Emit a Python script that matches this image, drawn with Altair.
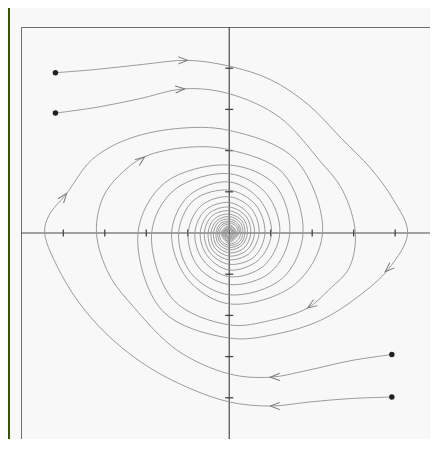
import altair as alt
import pandas as pd

# ---- trajectories (in plot units) ----
A_x = [-4.19, -3.20, -2.10, -1.00, 0.00, 1.00, 1.90, 2.70, 3.40, 3.95, 4.30, 3.85, 3.10, 2.20, 1.15, 0.00,
       -1.62, -2.20, -1.55, 0.00, 1.10, 1.46, 1.00, 0.00, -0.75, -0.99, -0.68, 0.00, 0.54, 0.72, 0.49, 0.00,
       -0.40, -0.51, -0.35, 0.00, 0.30, 0.38, 0.27, 0.00, -0.22, -0.28, -0.19, 0.00, 0.16, 0.21, 0.00, -0.15,
       0.00, 0.11, 0.00, -0.08, 0.00]
A_y = [3.89, 3.97, 4.09, 4.19, 4.05, 3.72, 3.12, 2.30, 1.58, 0.82, 0.00, -0.86, -1.55, -2.12, -2.45, -2.55,
       -1.88, 0.00, 1.22, 1.65, 1.17, 0.00, -0.95, -1.25, -0.82, 0.00, 0.66, 0.88, 0.58, 0.00, -0.49, -0.65,
       -0.42, 0.00, 0.35, 0.46, 0.30, 0.00, -0.26, -0.35, -0.22, 0.00, 0.19, 0.25, 0.16, 0.00, -0.19, 0.00,
       0.13, 0.00, -0.10, 0.00, 0.06]

B_x = [-4.19, -3.20, -2.20, -1.07, 0.00, 1.20, 2.17, 2.73, 3.04, 2.89, 2.40, 1.89, 1.00, 0.00,
       -1.35, -1.87, -1.32, 0.00, 0.90, 1.22, 0.83, 0.00, -0.63, -0.83, -0.57, 0.00, 0.45, 0.61, 0.42, 0.00,
       -0.35, -0.44, -0.30, 0.00, 0.26, 0.33, 0.23, 0.00, -0.19, -0.24, -0.16, 0.00, 0.18, 0.00, -0.13, 0.00,
       0.095, 0.00, -0.07, 0.00]
B_y = [2.91, 3.05, 3.25, 3.50, 3.38, 2.82, 1.77, 1.04, 0.00, -0.85, -1.38, -1.82, -2.12, -2.23,
       -1.62, 0.00, 1.05, 1.44, 0.95, 0.00, -0.80, -1.06, -0.66, 0.00, 0.56, 0.74, 0.48, 0.00, -0.42, -0.56,
       -0.36, 0.00, 0.30, 0.40, 0.26, 0.00, -0.23, -0.30, -0.19, 0.00, 0.16, 0.21, 0.00, -0.16, 0.00, 0.11,
       0.00, -0.09, 0.00, 0.05]

C_x = [3.92, 2.92, 1.90, 0.99, 0.00, -1.25, -2.30, -2.90, -3.20, -3.05, -2.65, -2.04, -1.00, 0.00,
       1.30, 1.78, 1.28, 0.00, -0.92, -1.22, -0.85, 0.00, 0.64, 0.86, 0.60, 0.00, -0.46, -0.60, -0.42, 0.00,
       0.34, 0.44, 0.30, 0.00, -0.26, -0.32, -0.22, 0.00, 0.19, 0.24, 0.00, -0.17, 0.00, 0.13, 0.00, -0.095,
       0.00, 0.07, 0.00]
C_y = [-2.95, -3.10, -3.33, -3.50, -3.42, -2.85, -1.80, -1.00, 0.00, 0.85, 1.40, 1.85, 2.08, 2.02,
       1.45, 0.00, -1.10, -1.50, -0.98, 0.00, 0.80, 1.04, 0.68, 0.00, -0.58, -0.76, -0.48, 0.00, 0.41, 0.54,
       0.35, 0.00, -0.30, -0.41, -0.26, 0.00, 0.22, 0.29, 0.19, 0.00, -0.22, 0.00, 0.15, 0.00, -0.12, 0.00,
       0.08, 0.00, -0.05]

D_x = [3.92, 2.90, 1.95, 0.99, 0.00, -1.00, -1.95, -2.80, -3.50, -4.05, -4.45, -4.35, -3.92, -3.32, -2.52,
       -1.31, 0.00, 1.60, 2.25, 1.58, 0.00, -1.02, -1.39, -0.98, 0.00, 0.74, 1.02, 0.70, 0.00, -0.53, -0.70,
       -0.48, 0.00, 0.40, 0.52, 0.36, 0.00, -0.30, -0.38, -0.26, 0.00, 0.22, 0.28, 0.19, 0.00, -0.20, 0.00,
       0.15, 0.00, -0.11, 0.00, 0.08, 0.00]
D_y = [-3.98, -4.02, -4.10, -4.20, -4.10, -3.75, -3.25, -2.60, -1.85, -1.00, 0.00, 0.42, 0.96, 1.77, 2.25,
       2.53, 2.49, 1.78, 0.00, -1.25, -1.72, -1.10, 0.00, 0.90, 1.24, 0.80, 0.00, -0.66, -0.90, -0.55, 0.00,
       0.48, 0.63, 0.41, 0.00, -0.36, -0.48, -0.31, 0.00, 0.26, 0.34, 0.22, 0.00, -0.19, -0.26, 0.00, 0.18,
       0.00, -0.14, 0.00, 0.09, 0.00, -0.06]

# starting points (dots)
dot_x = [-4.19, -4.19, 3.92, 3.92]
dot_y = [3.89, 2.91, -2.95, -3.98]

# arrowheads: position and heading (degrees, clockwise on screen)
arrow_x = [-1.00, -1.07, -3.92, -2.04, 3.76, 1.89, 0.99, 0.99]
arrow_y = [4.19, 3.50, 0.96, 1.85, -0.94, -1.82, -3.50, -4.20]
arrow_angle = [0, 356, 308, 322, 137, 146, 178, 180]

# axis tick positions and visible frame extent
tick_vals = [-4, -3, -2, -1, 1, 2, 3, 4]
x_lo, x_hi = -5.02, 4.84
y_lo, y_hi = -5.0, 5.0

# ---- tables ----
rows = []
for name, xs, ys in [("A", A_x, A_y), ("B", B_x, B_y), ("C", C_x, C_y), ("D", D_x, D_y)]:
    for i, (x, y) in enumerate(zip(xs, ys)):
        rows.append({"traj": name, "i": i, "x": x, "y": y})
df_lines = pd.DataFrame(rows)
df_dots = pd.DataFrame({"x": dot_x, "y": dot_y})
df_arrows = pd.DataFrame({"x": arrow_x, "y": arrow_y, "a": arrow_angle})
df_xt = pd.DataFrame({"x": tick_vals, "y": [0] * len(tick_vals)})
df_yt = pd.DataFrame({"x": [0] * len(tick_vals), "y": tick_vals})
df_axes = pd.DataFrame({"x": [x_lo, 0], "x2": [x_hi, 0], "y": [0, y_lo], "y2": [0, y_hi]})

xs = alt.Scale(domain=[x_lo, x_hi], nice=False, zero=False)
ys = alt.Scale(domain=[y_lo, y_hi], nice=False, zero=False)
X = alt.X("x:Q", scale=xs, axis=None)
Y = alt.Y("y:Q", scale=ys, axis=None)

green = alt.Chart(df_dots).mark_rect(color="#2d5a00").encode(
    x=alt.value(-13), x2=alt.value(-11), y=alt.value(-19), y2=alt.value(413)
)

axes = alt.Chart(df_axes).mark_rule(color="#4a4a4a", strokeWidth=1.2).encode(
    x=X, x2="x2:Q", y=Y, y2="y2:Q"
)

xticks = alt.Chart(df_xt).mark_point(
    shape="M0,-1L0,1", size=49, filled=False, stroke="#444", strokeWidth=1.3, opacity=1
).encode(x=X, y=Y)
yticks = alt.Chart(df_yt).mark_point(
    shape="M-1,0L1,0", size=64, filled=False, stroke="#444", strokeWidth=1.3, opacity=1
).encode(x=X, y=Y)

lines = alt.Chart(df_lines).mark_line(
    interpolate="catmull-rom", color="#969696", strokeWidth=0.95
).encode(x=X, y=Y, detail="traj:N", order="i:Q")

arrows = alt.Chart(df_arrows).mark_point(
    shape="M-2,-0.75L0,0L-2,0.75", size=90, filled=False, stroke="#7a7a7a", strokeWidth=1, opacity=1
).encode(x=X, y=Y, angle=alt.Angle("a:Q", scale=None))

dots = alt.Chart(df_dots).mark_circle(size=30, color="#222", opacity=1).encode(x=X, y=Y)

chart = alt.layer(green, axes, xticks, yticks, lines, arrows, dots).properties(
    width=409,
    height=412,
    padding={"left": 13, "top": 19, "right": 0, "bottom": 0},
    autosize=alt.AutoSizeParams(type="none"),
    background="#f8f8f8",
).configure_view(stroke="#6e6e6e", strokeWidth=1)

chart.save("out.html", embed_options={"renderer": "svg", "actions": False})
